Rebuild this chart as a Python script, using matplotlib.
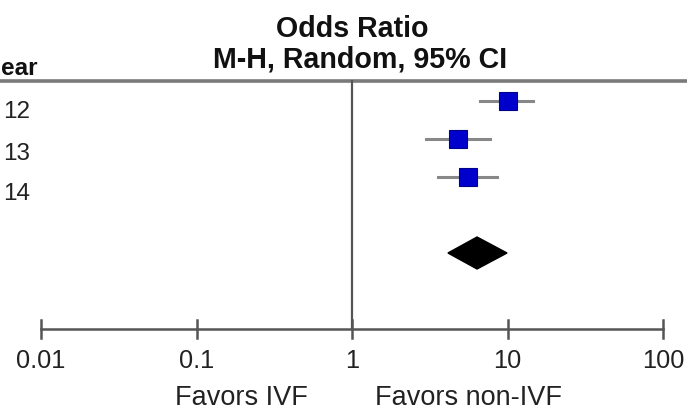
import matplotlib
matplotlib.use("Agg")
import matplotlib.pyplot as plt
import numpy as np

plt.rcParams['font.family'] = ['Liberation Sans', 'DejaVu Sans']

# ---- data ----
years = ["12", "13", "14"]          # visible part of 2012, 2013, 2014
odds_ratio = [10.0, 4.81, 5.57]
ci_low = [6.65, 2.99, 3.57]
ci_high = [14.6, 7.71, 8.55]
pooled_or = 6.37
pooled_low = 4.14
pooled_high = 9.93
tick_values = [0.01, 0.1, 1, 10, 100]
tick_labels = ["0.01", "0.1", "1", "10", "100"]

# ---- layout helpers (pixel geometry of the reference) ----
W, H = 687, 411
X_ONE = 352.0      # pixel x of OR = 1
PX_DEC = 155.5     # pixels per decade
Y0 = 101.0         # pixel y of first row
ROW = 38.0         # pixels per row

def px2x(px):
    return 10 ** ((px - X_ONE) / PX_DEC)

def py2y(py):
    return (py - Y0) / ROW

fig = plt.figure(figsize=(W / 100, H / 100), dpi=100)
ax = fig.add_axes([0, 0, 1, 1])
ax.set_xscale('log')
ax.set_xlim(px2x(0), px2x(W))
ax.set_ylim(py2y(H), py2y(0))
ax.axis('off')

grey = '#7a7a7a'
dark = '#555555'

# header line
ax.axhline(py2y(81), color=grey, lw=2.6, zorder=1)
# vertical line at OR = 1
ax.plot([1, 1], [py2y(81), py2y(329)], color=dark, lw=1.6, zorder=1)

# bottom axis
axis_y = py2y(329)
ax.plot([tick_values[0], tick_values[-1]], [axis_y, axis_y], color=dark, lw=1.8, zorder=1)
for tv, tl in zip(tick_values, tick_labels):
    ax.plot([tv, tv], [py2y(320), py2y(338)], color=dark, lw=1.8, zorder=1)
    ax.text(tv, py2y(368), tl, ha='center', va='baseline', fontsize=18.3, color='#222222')

# studies
rows = np.arange(len(years))
for i in rows:
    ax.plot([ci_low[i], ci_high[i]], [i, i], color='#888888', lw=2.2, zorder=2)
ax.plot(odds_ratio, rows, 's', color='#0000cc', markeredgecolor='#00008b',
        markeredgewidth=0.8, markersize=13.3, zorder=3, linestyle='none')

# pooled diamond
dy = 4.0
hh = 16.0 / ROW
ax.fill([pooled_low, pooled_or, pooled_high, pooled_or],
        [dy, dy - hh, dy, dy + hh], color='black', zorder=3)

# left labels
ax.text(px2x(1), py2y(75), "ear", ha='left', va='baseline', fontsize=17.5,
        fontweight='bold', color='#111111')
label_base = [118, 160, 200]
for yr, b in zip(years, label_base):
    ax.text(px2x(30), py2y(b), yr, ha='right', va='baseline', fontsize=17.5, color='#222222')

# header titles
ax.text(1, py2y(37), "Odds Ratio", ha='center', va='baseline', fontsize=20.6,
        fontweight='bold', color='#111111')
ax.text(px2x(360), py2y(68), "M-H, Random, 95% CI", ha='center', va='baseline',
        fontsize=20.6, fontweight='bold', color='#111111')

# favors labels
ax.text(px2x(308), py2y(405), "Favors IVF", ha='right', va='baseline', fontsize=19.5, color='#222222')
ax.text(px2x(375), py2y(405), "Favors non-IVF", ha='left', va='baseline', fontsize=19.5, color='#222222')

fig.savefig("out.png", dpi=100)
